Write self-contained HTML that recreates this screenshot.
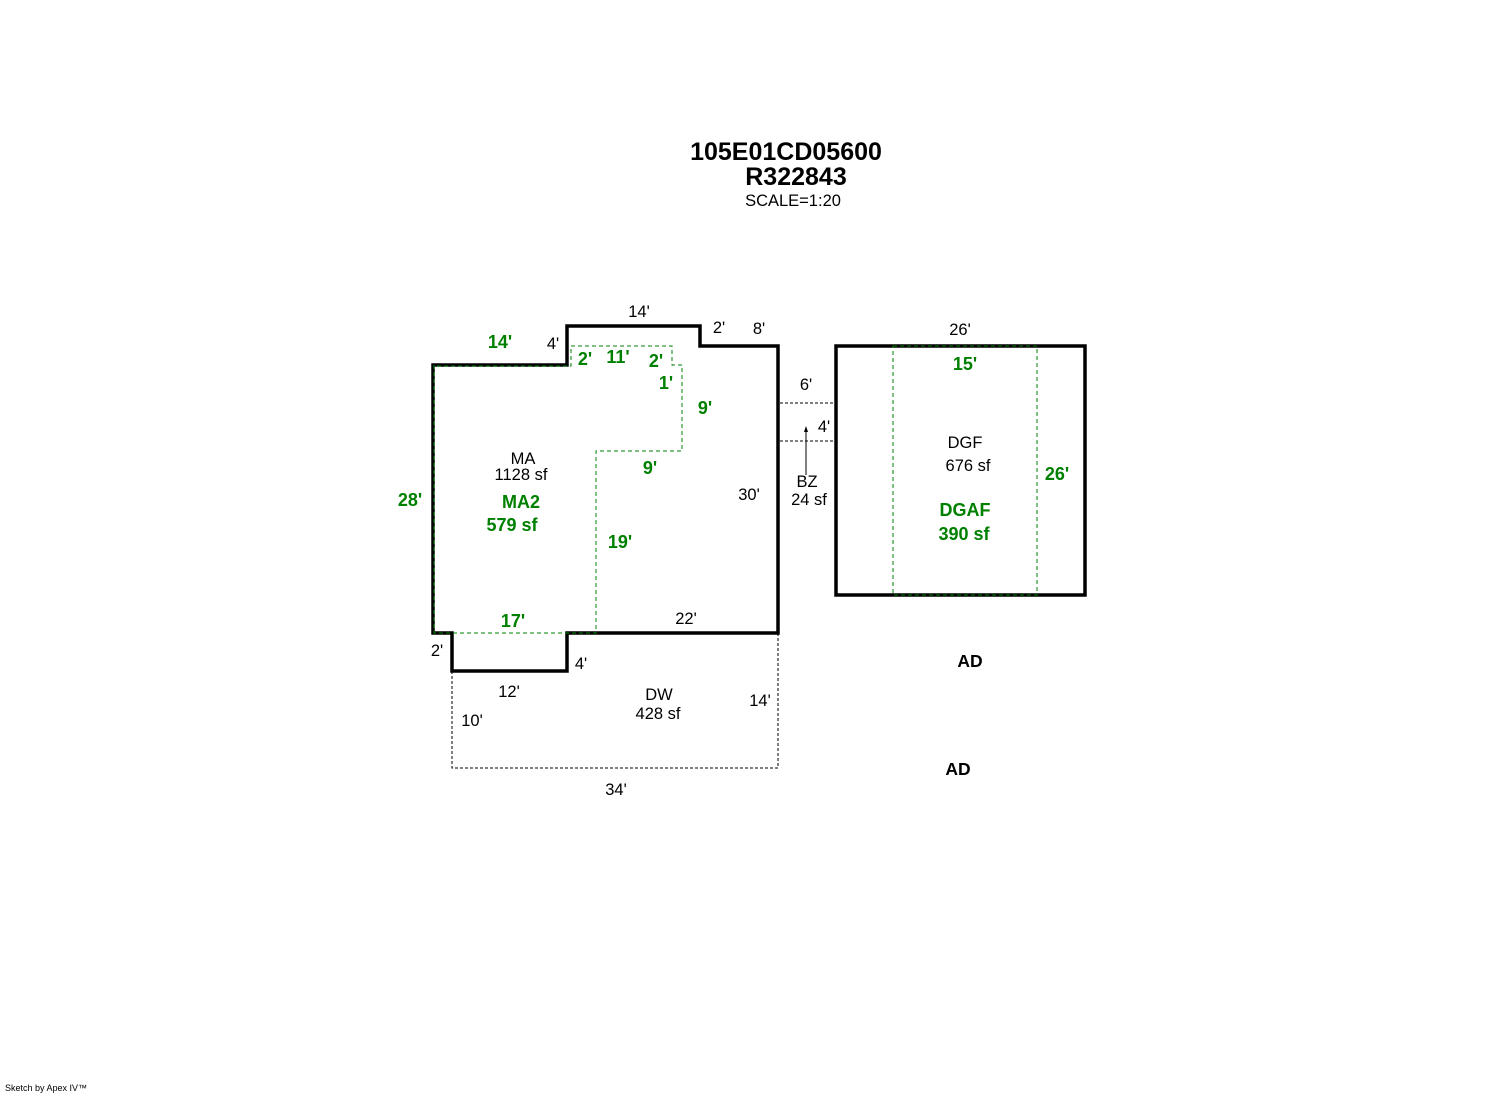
<!DOCTYPE html>
<html><head><style>
body{margin:0;background:#fff;width:1492px;height:1094px;overflow:hidden}
svg text{font-family:"Liberation Sans",Arial,sans-serif}
.k{font-size:16.5px;fill:#000}
.g{font-size:18px;fill:#008000;font-weight:bold}
</style></head><body>
<svg width="1492" height="1094" viewBox="0 0 1492 1094">
<text x="786" y="160" font-size="25" font-weight="bold" text-anchor="middle">105E01CD05600</text>
<text x="796" y="185" font-size="25" font-weight="bold" text-anchor="middle">R322843</text>
<text x="793" y="206" font-size="16.5" text-anchor="middle">SCALE=1:20</text>

<polyline points="452,671 452,768 778,768 778,633" fill="none" stroke="#000" stroke-width="1" stroke-dasharray="3,2"/>
<line x1="780" y1="403" x2="835" y2="403" stroke="#000" stroke-width="1" stroke-dasharray="3,2"/>
<line x1="780" y1="441" x2="835" y2="441" stroke="#000" stroke-width="1" stroke-dasharray="3,2"/>
<line x1="806" y1="475" x2="806" y2="429" stroke="#000" stroke-width="1"/>
<polygon points="806,426 804,432 808,432" fill="#000"/>

<polygon points="433,365 567,365 567,326 700,326 700,346 778,346 778,633 567,633 567,671 452,671 452,633 433,633" fill="none" stroke="#000" stroke-width="3.5"/>
<polyline points="434,365 434,633 596,633 596,451 682,451 682,365 672,365 672,346 571,346 571,366 434,366" fill="none" stroke="#008000" stroke-width="1" stroke-dasharray="4,3"/>

<rect x="836" y="346" width="249" height="249" fill="none" stroke="#000" stroke-width="3.5"/>
<rect x="893" y="346" width="144" height="249" fill="none" stroke="#008000" stroke-width="1" stroke-dasharray="4,3"/>

<g class="k">
<text x="639" y="317" text-anchor="middle">14'</text>
<text x="719" y="333" text-anchor="middle">2'</text>
<text x="759" y="334" text-anchor="middle">8'</text>
<text x="553" y="349" text-anchor="middle">4'</text>
<text x="523" y="464" text-anchor="middle">MA</text>
<text x="521" y="480" text-anchor="middle">1128 sf</text>
<text x="749" y="500" text-anchor="middle">30'</text>
<text x="686" y="624" text-anchor="middle">22'</text>
<text x="437" y="656" text-anchor="middle">2'</text>
<text x="581" y="669" text-anchor="middle">4'</text>
<text x="509" y="697" text-anchor="middle">12'</text>
<text x="659" y="700" text-anchor="middle">DW</text>
<text x="658" y="719" text-anchor="middle">428 sf</text>
<text x="760" y="706" text-anchor="middle">14'</text>
<text x="472" y="726" text-anchor="middle">10'</text>
<text x="616" y="795" text-anchor="middle">34'</text>
<text x="806" y="390" text-anchor="middle">6'</text>
<text x="824" y="432" text-anchor="middle">4'</text>
<text x="807" y="487" text-anchor="middle">BZ</text>
<text x="809" y="505" text-anchor="middle">24 sf</text>
<text x="960" y="335" text-anchor="middle">26'</text>
<text x="965" y="448" text-anchor="middle">DGF</text>
<text x="968" y="471" text-anchor="middle">676 sf</text>
</g>
<g class="g">
<text x="500" y="348" text-anchor="middle">14'</text>
<text x="585" y="365" text-anchor="middle">2'</text>
<text x="618" y="363" text-anchor="middle">11'</text>
<text x="656" y="367" text-anchor="middle">2'</text>
<text x="666" y="389" text-anchor="middle">1'</text>
<text x="705" y="414" text-anchor="middle">9'</text>
<text x="650" y="474" text-anchor="middle">9'</text>
<text x="410" y="506" text-anchor="middle">28'</text>
<text x="521" y="508" text-anchor="middle">MA2</text>
<text x="512" y="531" text-anchor="middle">579 sf</text>
<text x="620" y="548" text-anchor="middle">19'</text>
<text x="513" y="627" text-anchor="middle">17'</text>
<text x="965" y="370" text-anchor="middle">15'</text>
<text x="1057" y="480" text-anchor="middle">26'</text>
<text x="965" y="516" text-anchor="middle">DGAF</text>
<text x="964" y="540" text-anchor="middle">390 sf</text>
</g>
<text x="970" y="667" font-size="17.5" font-weight="bold" text-anchor="middle">AD</text>
<text x="958" y="775" font-size="17.5" font-weight="bold" text-anchor="middle">AD</text>
<text x="5" y="1091" font-size="9">Sketch by Apex IV™</text>
</svg>
</body></html>
